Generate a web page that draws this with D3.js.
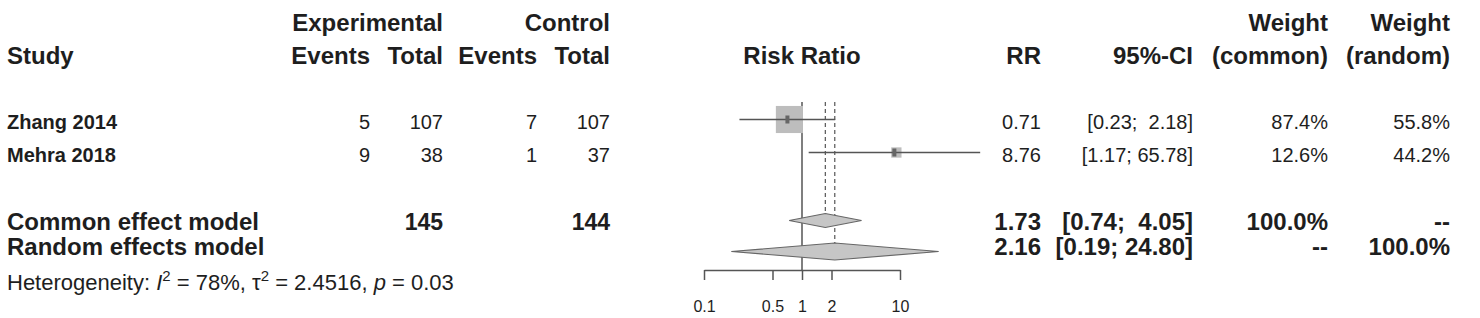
<!DOCTYPE html>
<html>
<head>
<meta charset="utf-8">
<script src="https://cdn.jsdelivr.net/npm/d3@7"></script>
<style>
  html, body { margin: 0; padding: 0; background: #fff; }
  svg text { font-family: Arial, "Liberation Sans", Helvetica, sans-serif; fill: #1e1e1e; white-space: pre; }
</style>
</head>
<body>
<div id="chart"></div>
<script>
// --- data ---
const studies = ["Zhang 2014", "Mehra 2018"];
const expEvents = [5, 9];
const expTotal = [107, 38];
const ctrlEvents = [7, 1];
const ctrlTotal = [107, 37];
const studyRR = [0.71, 8.76];
const studyLow = [0.23, 1.17];
const studyHigh = [2.18, 65.78];
const weightCommon = [87.4, 12.6];
const weightRandom = [55.8, 44.2];

const models = ["Common effect model", "Random effects model"];
const modelExpTotal = [145, null];
const modelCtrlTotal = [144, null];
const modelRR = [1.73, 2.16];
const modelLow = [0.74, 0.19];
const modelHigh = [4.05, 24.80];
const modelWeightCommon = ["100.0%", "--"];
const modelWeightRandom = ["--", "100.0%"];

const axisTicks = [0.1, 0.5, 1, 2, 10];
const hetI2 = "78%", hetTau2 = "2.4516", hetP = "0.03";

const width = 1480, height = 318;

const svg = d3.select("#chart").append("svg")
    .attr("width", width)
    .attr("height", height);

// scales
const x = d3.scaleLog().domain([0.1, 10]).range([704, 900]);
const row = d3.scaleLinear().domain([0, 1]).range([119.5, 152.5]);   // row centres
const boxSize = d3.scaleSqrt().domain([0, 100]).range([0, 29]);

// column right edges
const col = { study: 7, expEv: 370, expTot: 443, ctrlEv: 537, ctrlTot: 610,
              rr: 1041, ci: 1193, wc: 1328, wr: 1450 };

const fmt2 = d3.format(".2f");
function ciText(lo, hi) {
    const a = fmt2(lo), b = fmt2(hi);
    return "[" + a + "; " + b.padStart(5, " ") + "]";
}

function txt(xp, yp, s, opts = {}) {
    return svg.append("text")
        .attr("x", xp).attr("y", yp)
        .attr("text-anchor", opts.anchor || "end")
        .attr("font-size", (opts.size || 20) + "px")
        .attr("font-weight", opts.bold ? "bold" : "normal")
        .text(s);
}

// --- header ---
const h1 = 31, h2 = 63.5;
txt(col.expTot, h1, "Experimental", { bold: true, size: 24 });
txt(col.ctrlTot, h1, "Control", { bold: true, size: 24 });
txt(col.wc, h1, "Weight", { bold: true, size: 24 });
txt(col.wr, h1, "Weight", { bold: true, size: 24 });
txt(col.study, h2, "Study", { bold: true, size: 24, anchor: "start" });
txt(col.expEv, h2, "Events", { bold: true, size: 24 });
txt(col.expTot, h2, "Total", { bold: true, size: 24 });
txt(col.ctrlEv, h2, "Events", { bold: true, size: 24 });
txt(col.ctrlTot, h2, "Total", { bold: true, size: 24 });
txt(x(1), h2, "Risk Ratio", { bold: true, size: 24, anchor: "middle" });
txt(col.rr, h2, "RR", { bold: true, size: 24 });
txt(col.ci, h2, "95%-CI", { bold: true, size: 24 });
txt(col.wc, h2, "(common)", { bold: true, size: 24 });
txt(col.wr, h2, "(random)", { bold: true, size: 24 });

// --- reference lines ---
const plotTop = 102, axisY = 270;
svg.append("line")
    .attr("x1", x(1)).attr("x2", x(1))
    .attr("y1", plotTop).attr("y2", axisY)
    .attr("stroke", "#555").attr("stroke-width", 1.5);

const diamondHalf = [7, 8.5];
models.forEach((m, i) => {
    svg.append("line")
        .attr("x1", x(modelRR[i])).attr("x2", x(modelRR[i]))
        .attr("y1", plotTop).attr("y2", row(3 + i) - diamondHalf[i])
        .attr("stroke", "#555").attr("stroke-width", 1.2)
        .attr("stroke-dasharray", "4,3");
});

// --- study rows ---
studies.forEach((s, i) => {
    const cy = row(i), base = cy + 9.5;
    txt(col.study, base, s, { bold: true, anchor: "start" });
    txt(col.expEv, base, expEvents[i]);
    txt(col.expTot, base, expTotal[i]);
    txt(col.ctrlEv, base, ctrlEvents[i]);
    txt(col.ctrlTot, base, ctrlTotal[i]);
    txt(col.rr, base, fmt2(studyRR[i]));
    txt(col.ci, base, ciText(studyLow[i], studyHigh[i]));
    txt(col.wc, base, weightCommon[i].toFixed(1) + "%");
    txt(col.wr, base, weightRandom[i].toFixed(1) + "%");

    const sz = boxSize(weightCommon[i]);
    svg.append("rect")
        .attr("x", x(studyRR[i]) - sz / 2 + 2).attr("y", cy - sz / 2)
        .attr("width", sz).attr("height", sz)
        .attr("fill", "#bdbdbd");
    svg.append("line")
        .attr("x1", x(studyLow[i])).attr("x2", x(studyHigh[i]))
        .attr("y1", cy).attr("y2", cy)
        .attr("stroke", "#555").attr("stroke-width", 1.5);
    svg.append("rect")
        .attr("x", x(studyRR[i]) - 2).attr("y", cy - 4)
        .attr("width", 4).attr("height", 8)
        .attr("fill", "#666");
});

// --- pooled rows ---
const modelBase = [229.5, 254.5];
models.forEach((m, i) => {
    const cy = row(3 + i) + (i === 0 ? 2 : 0), base = modelBase[i];
    txt(col.study, base, m, { bold: true, size: 24, anchor: "start" });
    if (modelExpTotal[i] != null) txt(col.expTot, base, modelExpTotal[i], { bold: true, size: 23 });
    if (modelCtrlTotal[i] != null) txt(col.ctrlTot, base, modelCtrlTotal[i], { bold: true, size: 23 });
    txt(col.rr, base, fmt2(modelRR[i]), { bold: true, size: 24 });
    txt(col.ci, base, ciText(modelLow[i], modelHigh[i]), { bold: true, size: 24 });
    txt(col.wc, base, modelWeightCommon[i], { bold: true, size: 24 });
    txt(col.wr, base, modelWeightRandom[i], { bold: true, size: 24 });

    const h = diamondHalf[i];
    const pts = [[x(modelLow[i]), cy], [x(modelRR[i]), cy - h],
                 [x(modelHigh[i]), cy], [x(modelRR[i]), cy + h]];
    svg.append("path")
        .attr("d", d3.line()(pts) + "Z")
        .attr("fill", "#c6c6c6")
        .attr("stroke", "#666").attr("stroke-width", 1.2);
});

// --- heterogeneity ---
const het = svg.append("text")
    .attr("x", col.study).attr("y", 289.5)
    .attr("font-size", "22px")
    .attr("fill", "#333");
het.append("tspan").text("Heterogeneity: ");
het.append("tspan").attr("font-style", "italic").text("I");
het.append("tspan").attr("font-size", "15px").attr("dy", -9).text("2");
het.append("tspan").attr("dy", 9).text(" = " + hetI2 + ", \u03c4");
het.append("tspan").attr("font-size", "15px").attr("dy", -9).text("2");
het.append("tspan").attr("dy", 9).text(" = " + hetTau2 + ", ");
het.append("tspan").attr("font-style", "italic").text("p");
het.append("tspan").text(" = " + hetP);

// --- axis ---
const axisG = svg.append("g")
    .attr("transform", `translate(0, ${axisY})`)
    .call(d3.axisBottom(x)
        .tickValues(axisTicks)
        .tickFormat(d => String(d))
        .tickSizeInner(10)
        .tickSizeOuter(0)
        .tickPadding(21));
axisG.select(".domain").attr("stroke", "#555").attr("stroke-width", 1.5);
axisG.selectAll(".tick line").attr("stroke", "#555").attr("stroke-width", 1.5);
axisG.selectAll(".tick text")
    .attr("font-size", "16px")
    .attr("font-family", "Arial, 'Liberation Sans', sans-serif")
    .attr("fill", "#444");
</script>
</body>
</html>
